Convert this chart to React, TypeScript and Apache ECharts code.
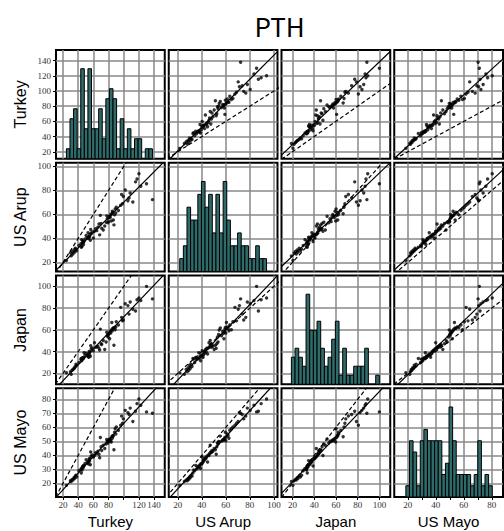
import React, { useEffect, useRef } from "react";
import * as echarts from "echarts";

const variableNames = ["Turkey", "US Arup", "Japan", "US Mayo"];

const turkey = [
  24.5, 30.9, 29.8, 33.2, 32.0, 35.3, 34.4, 38.0, 36.2, 37.1,
  44.1, 41.0, 45.1, 43.6, 44.6, 46.6, 45.6, 46.1, 47.7, 47.1,
  56.0, 53.5, 49.0, 52.0, 53.0, 55.0, 54.0, 50.5, 54.5, 55.5,
  68.3, 60.0, 57.1, 61.5, 58.5, 67.4, 64.5, 63.0, 56.5, 66.0,
  71.0, 87.1, 75.0, 70.1, 73.0, 76.8, 79.2, 83.6, 80.0, 78.4,
  82.9, 80.7, 82.2, 77.6, 81.5, 85.0, 69.2, 84.3, 86.3, 85.6,
  89.5, 87.9, 93.0, 88.7, 90.2, 96.0, 98.4, 112.0, 99.5, 97.2,
  107.0, 137.8, 105.5, 130.0, 115.5, 102.0, 108.5, 122.5, 117.5, 120.0,
];
const usArup = [
  21.7, 25.5, 28.0, 27.0, 29.2, 28.6, 30.4, 29.8, 31.9, 31.1,
  32.6, 34.1, 33.3, 35.6, 39.0, 37.0, 36.3, 38.0, 37.5, 34.9,
  38.5, 39.9, 39.5, 40.7, 44.8, 41.5, 41.1, 42.4, 41.9, 43.6,
  43.0, 40.3, 44.2, 46.0, 45.4, 52.0, 46.5, 48.0, 47.5, 49.3,
  48.5, 51.3, 50.3, 52.5, 47.0, 53.5, 53.0, 54.5, 54.0, 56.4,
  60.0, 58.0, 57.4, 58.8, 58.4, 62.6, 59.2, 60.5, 55.4, 61.9,
  61.2, 59.6, 63.3, 64.6, 65.9, 67.6, 68.9, 70.3, 74.9, 76.6,
  73.6, 72.3, 71.3, 85.6, 87.1, 80.3, 77.9, 83.4, 89.4, 93.9,
];
const japan = [
  20.5, 19.1, 21.6, 23.6, 22.8, 25.2, 24.4, 27.4, 26.3, 28.5,
  33.7, 30.0, 33.1, 32.8, 31.6, 33.4, 34.3, 34.0, 39.0, 34.6,
  35.7, 35.3, 36.7, 36.2, 37.9, 37.3, 34.9, 38.5, 40.2, 39.6,
  41.4, 40.8, 42.5, 48.1, 43.4, 43.0, 44.4, 43.9, 45.4, 44.9,
  46.5, 45.9, 42.0, 47.3, 50.3, 48.9, 53.5, 59.8, 55.7, 54.6,
  57.2, 56.6, 58.5, 57.9, 51.9, 59.2, 60.7, 66.7, 61.7, 61.2,
  62.6, 62.1, 64.5, 60.2, 67.5, 80.7, 68.3, 78.9, 69.1, 71.5,
  74.5, 88.5, 82.3, 100.0, 77.3, 84.0, 85.6, 86.9, 87.7, 89.3,
];
const usMayo = [
  18.6, 21.4, 21.9, 22.4, 22.9, 23.5, 24.0, 24.6, 25.2, 25.9,
  27.5, 29.1, 29.6, 30.2, 30.7, 31.2, 31.7, 32.1, 32.5, 32.9,
  33.3, 33.8, 34.3, 34.8, 35.3, 35.8, 36.3, 36.9, 37.4, 37.9,
  38.4, 38.9, 39.4, 39.9, 40.4, 40.9, 41.4, 42.0, 42.5, 43.0,
  43.5, 44.0, 45.0, 46.2, 47.3, 48.1, 48.9, 49.6, 49.9, 50.2,
  50.5, 50.8, 51.1, 51.4, 51.8, 52.3, 52.8, 53.3, 53.8, 54.3,
  55.3, 56.5, 57.9, 59.0, 60.4, 61.6, 63.0, 64.2, 66.1, 68.1,
  69.3, 70.2, 70.6, 71.1, 71.6, 72.2, 73.8, 75.8, 77.0, 80.3,
];

const turkeyCounts = [1, 4, 5, 1, 9, 3, 9, 3, 3, 5, 2, 6, 7, 6, 1, 4, 1, 3, 1, 2, 2, 0, 1, 1];
const usArupCounts = [1, 2, 5, 4, 4, 6, 7, 5, 6, 3, 6, 3, 7, 4, 2, 2, 3, 2, 2, 1, 1, 2, 1, 1];
const japanCounts = [3, 4, 3, 2, 10, 6, 6, 7, 4, 2, 3, 5, 7, 1, 4, 1, 1, 2, 2, 2, 4, 0, 0, 1];
const usMayoCounts = [1, 5, 4, 1, 5, 6, 5, 5, 5, 5, 2, 3, 8, 5, 2, 2, 2, 2, 1, 2, 5, 1, 2, 1];
const binStarts = [24.5, 21.65, 19.1, 18.6];
const binWidths = [4.72, 3.01, 3.37, 2.57];

const axisMin = [10.8, 12.5, 10, 10.3];
const axisMax = [154, 103, 110, 88];

const gridTicks = [
  [20, 40, 60, 80, 100, 120, 140],
  [20, 40, 60, 80, 100],
  [20, 40, 60, 80, 100],
  [20, 30, 40, 50, 60, 70, 80],
];
const xTickLabels = [
  [20, 40, 60, 80, 120, 140],
  [20, 40, 60, 80, 100],
  [20, 40, 60, 80, 100],
  [20, 40, 60, 80],
];
const yTickLabels = [
  [20, 40, 60, 80, 100, 120, 140],
  [20, 40, 60, 80, 100],
  [20, 40, 60, 80, 100],
  [20, 30, 40, 50, 60, 70, 80],
];

const titleText = "PTH";

// layout (styles, not data)
const PANEL_LEFT = 56;
const PANEL_TOP = 50;
const PANEL_SIZE = 108.75;
const PANEL_GAP = 4;
const BAR_FILL = "#2f6b6b";
const GRID_COLOR = "#888888";
const TITLE_FONT = "'Noto Sans CJK JP', 'Noto Sans', sans-serif";
const NAME_FONT = "'Liberation Sans', Arial, sans-serif";
const TICK_FONT = "'Liberation Serif', 'DejaVu Serif', serif";

function fitLine(xs: number[], ys: number[]) {
  const n = xs.length;
  let mx = 0, my = 0;
  for (let i = 0; i < n; i++) { mx += xs[i]; my += ys[i]; }
  mx /= n; my /= n;
  let sxx = 0, syy = 0, sxy = 0;
  for (let i = 0; i < n; i++) {
    sxx += (xs[i] - mx) ** 2;
    syy += (ys[i] - my) ** 2;
    sxy += (xs[i] - mx) * (ys[i] - my);
  }
  const slope = Math.sign(sxy) * Math.sqrt(syy / sxx);
  const intercept = my - slope * mx;
  return { slope, intercept };
}

export default function App() {
  const ref = useRef<HTMLDivElement>(null);

  useEffect(() => {
    if (!ref.current) return;
    const chart = echarts.init(ref.current, undefined, { renderer: "svg" });
    const vars = [turkey, usArup, japan, usMayo];
    const counts = [turkeyCounts, usArupCounts, japanCounts, usMayoCounts];

    const grids: any[] = [];
    const xAxes: any[] = [];
    const yAxes: any[] = [];
    const series: any[] = [];

    for (let r = 0; r < 4; r++) {
      for (let c = 0; c < 4; c++) {
        const k = r * 4 + c;
        grids.push({
          left: PANEL_LEFT + c * (PANEL_SIZE + PANEL_GAP),
          top: PANEL_TOP + r * (PANEL_SIZE + PANEL_GAP),
          width: PANEL_SIZE,
          height: PANEL_SIZE,
          show: true,
          borderColor: "#000",
          borderWidth: 2,
          backgroundColor: "#fff",
          containLabel: false,
          outerBoundsMode: "none",
        });
        xAxes.push({
          type: "value",
          gridIndex: k,
          min: axisMin[c],
          max: axisMax[c],
          axisLine: { show: false },
          axisTick: {
            show: r === 3,
            customValues: gridTicks[c],
            length: 3,
            lineStyle: { color: "#000", width: 1 },
          },
          axisLabel: {
            show: r === 3,
            customValues: xTickLabels[c],
            margin: 3,
            fontSize: 9,
            lineHeight: 10,
            color: "#333",
            fontFamily: TICK_FONT,
          },
          splitLine: { show: true, lineStyle: { color: GRID_COLOR, width: 1.5 } },
        });
        yAxes.push({
          type: "value",
          gridIndex: k,
          min: axisMin[r],
          max: axisMax[r],
          axisLine: { show: false },
          axisTick: {
            show: c === 0,
            customValues: gridTicks[r],
            length: 3,
            lineStyle: { color: "#000", width: 1 },
          },
          axisLabel: {
            show: c === 0,
            customValues: yTickLabels[r],
            margin: 5,
            fontSize: 9,
            color: "#333",
            fontFamily: TICK_FONT,
          },
          splitLine: { show: true, lineStyle: { color: GRID_COLOR, width: 1.5 } },
        });
      }
    }

    for (let r = 0; r < 4; r++) {
      const maxCount = Math.max(...counts[r]);
      yAxes.push({
        type: "value",
        gridIndex: r * 4 + r,
        min: 0,
        max: maxCount * 1.208,
        show: false,
        splitLine: { show: false },
      });
    }

    for (let r = 0; r < 4; r++) {
      for (let c = 0; c < 4; c++) {
        const k = r * 4 + c;
        if (r === c) {
          const bins = counts[r]
            .map((cnt, i) => [binStarts[r] + i * binWidths[r], binStarts[r] + (i + 1) * binWidths[r], cnt])
            .filter((d) => d[2] > 0);
          series.push({
            type: "custom",
            xAxisIndex: k,
            yAxisIndex: 16 + r,
            data: bins,
            encode: { x: [0, 1], y: 2 },
            silent: true,
            renderItem: (params: any, api: any) => {
              const p0 = api.coord([api.value(0), api.value(2)]);
              const p1 = api.coord([api.value(1), 0]);
              return {
                type: "rect",
                shape: { x: p0[0], y: p0[1], width: p1[0] - p0[0], height: p1[1] - p0[1] },
                style: { fill: BAR_FILL, stroke: "#000", lineWidth: 1 },
              };
            },
          });
        } else {
          const xs = vars[c];
          const ys = vars[r];
          const pts = xs.map((x, i) => [x, ys[i]]);
          const lo = Math.min(axisMin[c], axisMin[r]);
          const hi = Math.max(axisMax[c], axisMax[r]);
          const { slope, intercept } = fitLine(xs, ys);
          series.push({
            type: "line",
            xAxisIndex: k,
            yAxisIndex: k,
            data: [[lo, lo], [hi, hi]],
            symbol: "none",
            clip: true,
            silent: true,
            z: 3,
            lineStyle: { color: "#000", width: 1.2, type: [4, 2.5] },
          });
          series.push({
            type: "line",
            xAxisIndex: k,
            yAxisIndex: k,
            data: [
              [axisMin[c], intercept + slope * axisMin[c]],
              [axisMax[c], intercept + slope * axisMax[c]],
            ],
            symbol: "none",
            clip: true,
            silent: true,
            z: 3,
            lineStyle: { color: "#000", width: 1.2 },
          });
          series.push({
            type: "scatter",
            xAxisIndex: k,
            yAxisIndex: k,
            data: pts,
            symbol: "circle",
            symbolSize: 3.4,
            silent: true,
            z: 4,
            itemStyle: { color: "#000" },
          });
        }
      }
    }

    const graphics: any[] = [
      {
        type: "text",
        x: PANEL_LEFT + (4 * PANEL_SIZE + 3 * PANEL_GAP) / 2,
        y: 25,
        style: {
          text: titleText,
          fontSize: 26,
          lineHeight: 28,
          fontFamily: TITLE_FONT,
          fill: "#000",
          align: "center",
          verticalAlign: "middle",
        },
      },
    ];
    for (let i = 0; i < 4; i++) {
      const center = i * (PANEL_SIZE + PANEL_GAP) + PANEL_SIZE / 2;
      graphics.push({
        type: "text",
        x: 20,
        y: PANEL_TOP + center,
        rotation: Math.PI / 2,
        style: {
          text: variableNames[i],
          fontSize: 16,
          lineHeight: 16,
          fontFamily: NAME_FONT,
          fill: "#000",
          align: "center",
          verticalAlign: "middle",
        },
      });
      graphics.push({
        type: "text",
        x: PANEL_LEFT + center,
        y: 521,
        style: {
          text: variableNames[i],
          fontSize: 15,
          lineHeight: 15,
          fontFamily: NAME_FONT,
          fill: "#000",
          align: "center",
          verticalAlign: "middle",
        },
      });
    }

    chart.setOption({
      animation: false,
      backgroundColor: "#fff",
      grid: grids,
      xAxis: xAxes,
      yAxis: yAxes,
      series,
      graphic: graphics,
    });
    return () => chart.dispose();
  }, []);

  return (
    <div
      ref={ref}
      style={{ position: "fixed", left: 0, top: 0, width: 504, height: 531 }}
    />
  );
}
